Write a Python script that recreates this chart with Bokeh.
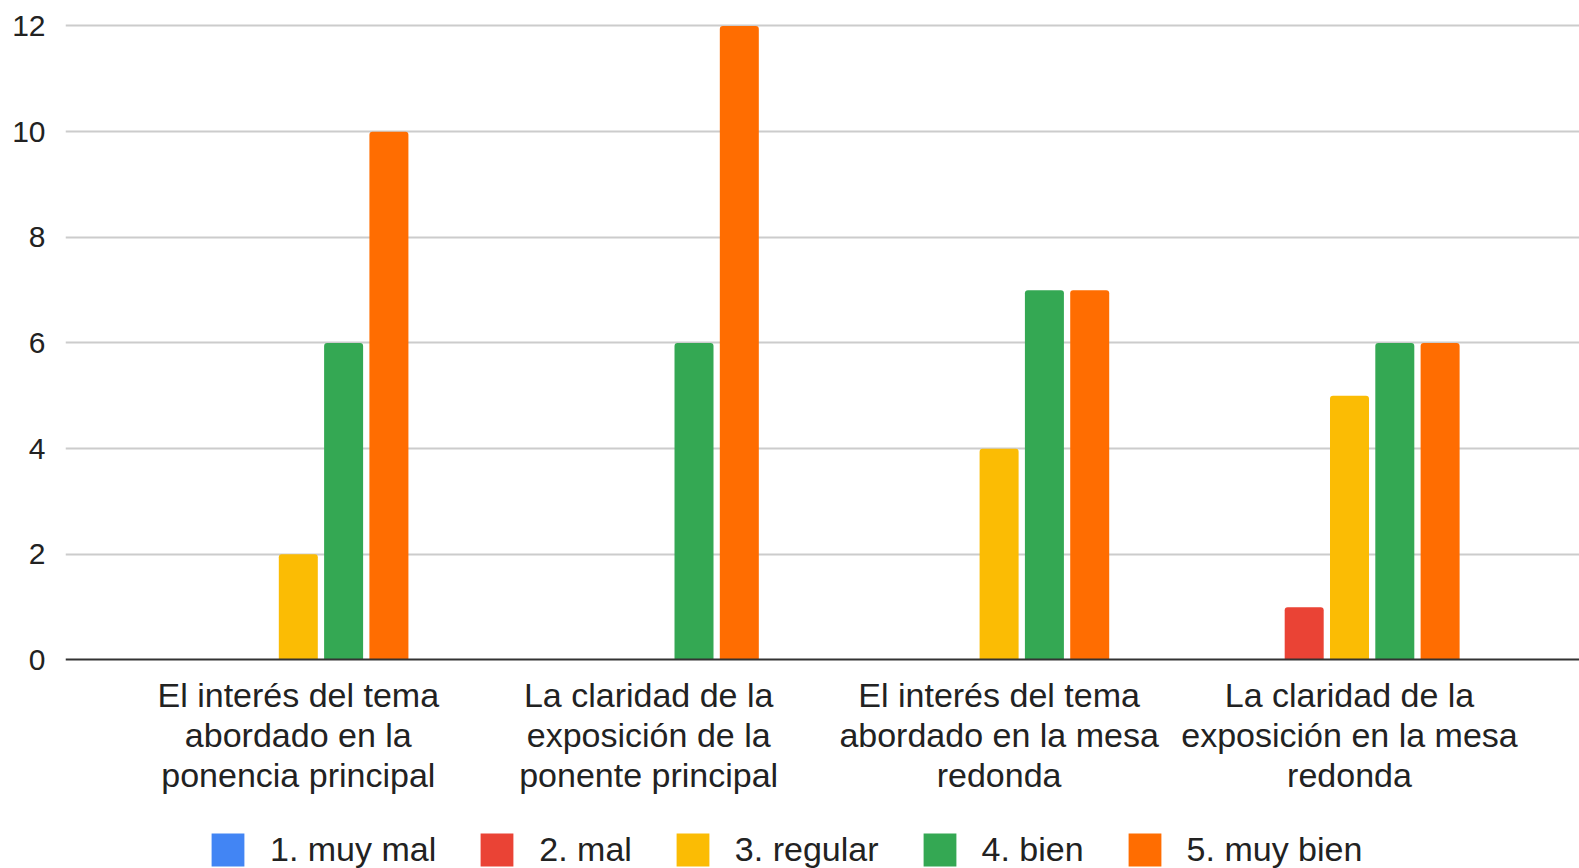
from bokeh.plotting import figure
from bokeh.models import Range1d, FixedTicker, Legend, LegendItem
from bokeh.embed import file_html
from bokeh.resources import INLINE

categories = [
    "El interés del tema\nabordado en la\nponencia principal",
    "La claridad de la\nexposición de la\nponente principal",
    "El interés del tema\nabordado en la mesa\nredonda",
    "La claridad de la\nexposición en la mesa\nredonda",
]
series_names = ["1. muy mal", "2. mal", "3. regular", "4. bien", "5. muy bien"]
muy_mal = [0, 0, 0, 0]
mal = [0, 0, 0, 1]
regular = [2, 0, 4, 5]
bien = [6, 6, 7, 6]
muy_bien = [10, 12, 7, 6]
series_values = [muy_mal, mal, regular, bien, muy_bien]
colors = ["#4285F4", "#EA4335", "#FBBC04", "#34A853", "#FF6D01"]
y_ticks = [0, 2, 4, 6, 8, 10, 12]

FONT = "Liberation Sans"

p = figure(
    width=1579, height=868,
    output_backend="svg", toolbar_location=None,
    x_range=Range1d(-0.6644, 3.6564), y_range=Range1d(-3.947, 12.293),
    min_border_left=65, min_border_right=0, min_border_top=10, min_border_bottom=0,
)
p.outline_line_color = None
p.background_fill_color = "white"
p.border_fill_color = "white"

step = 0.1293
bw = 0.1113
items = []
for i, (name, vals, col) in enumerate(zip(series_names, series_values, colors)):
    xs = [c + (i - 2) * step for c in range(len(categories))]
    r = p.vbar(x=xs, top=vals, bottom=0, width=bw, fill_color=col, line_color=None,
               border_radius=(3, 3, 0, 0))
    items.append(LegendItem(label=name, renderers=[r]))

# axes
p.xaxis.fixed_location = 0
p.xaxis.ticker = FixedTicker(ticks=list(range(len(categories))))
p.xaxis.major_label_overrides = {i: c for i, c in enumerate(categories)}
p.xaxis.major_label_text_font = FONT
p.xaxis.major_label_text_font_size = "34px"
p.xaxis.major_label_text_line_height = 1.05
p.xaxis.major_label_text_color = "#222222"
p.xaxis.major_label_standoff = 10
p.xaxis.axis_line_color = "#333333"
p.xaxis.axis_line_width = 2
p.xaxis.major_tick_line_color = None
p.xaxis.minor_tick_line_color = None

p.yaxis.ticker = FixedTicker(ticks=y_ticks)
p.yaxis.major_label_text_font = FONT
p.yaxis.major_label_text_font_size = "30px"
p.yaxis.major_label_text_color = "#222222"
p.yaxis.major_label_standoff = 14
p.yaxis.axis_line_color = None
p.yaxis.major_tick_line_color = None
p.yaxis.minor_tick_line_color = None

p.xgrid.grid_line_color = None
p.ygrid.grid_line_color = "#cccccc"
p.ygrid.grid_line_width = 2
p.ygrid.ticker = FixedTicker(ticks=y_ticks[1:])

legend = Legend(items=items, orientation="horizontal", location=(142, -2))
legend.label_text_font = FONT
legend.label_text_font_size = "34px"
legend.label_text_color = "#222222"
legend.glyph_width = 41
legend.glyph_height = 41
legend.label_height = 41
legend.label_standoff = 22
legend.spacing = 40
legend.padding = 0
legend.margin = 0
legend.border_line_color = None
legend.background_fill_alpha = 0
p.add_layout(legend, "center")

open("out.html", "w").write(file_html(p, INLINE))
